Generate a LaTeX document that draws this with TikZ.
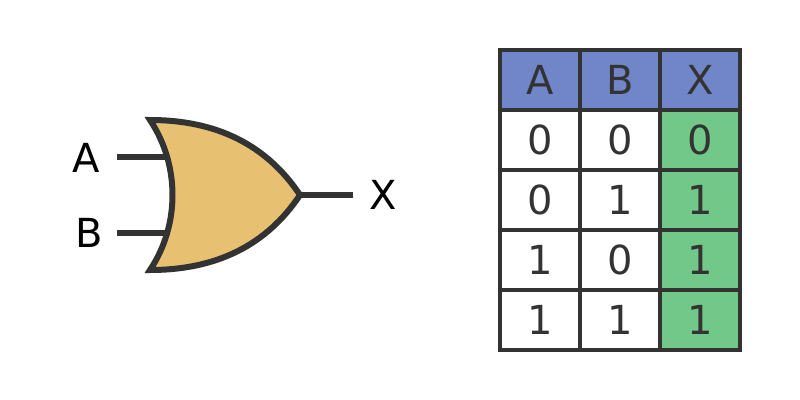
\documentclass[tikz,border=0pt]{standalone}
\usepackage{fontspec}
\setmainfont{DejaVu Sans}
\definecolor{ln}{HTML}{333333}
\definecolor{gatefill}{HTML}{E8C072}
\definecolor{hdr}{HTML}{7086C8}
\definecolor{res}{HTML}{72C888}
\tikzset{
 cellbox/.style={draw=ln,line width=3pt,minimum width=60pt,minimum height=45pt,inner sep=0pt,font=\fontsize{30}{30}\selectfont,text=ln},
 headbox/.style={cellbox,fill=hdr},
 resbox/.style={cellbox,fill=res},
 plainbox/.style={cellbox,fill=white},
 wire/.style={draw=ln,line width=4.5pt},
 gatelabel/.style={font=\fontsize{30}{30}\selectfont,text=black,inner sep=0pt}
}
\begin{document}
\begin{tikzpicture}[x=0.75pt,y=-0.75pt]
\useasboundingbox (0,0) rectangle (800,400);
\coordinate (a1) at (117,157.3);
\coordinate (a2) at (170,157.3);
\coordinate (b1) at (117,232.7);
\coordinate (b2) at (170,232.7);
\coordinate (x1) at (300,195);
\coordinate (x2) at (353,195);
\draw[wire] (a1) -- (a2);
\draw[wire] (b1) -- (b2);
\draw[wire] (x1) -- (x2);
\draw[wire,fill=gatefill,line join=miter] (150,120) .. controls (180,165) and (180,225) .. (150,270)
  .. controls (216.7,270) and (266.7,245) .. (300,195)
  .. controls (266.7,145) and (216.7,120) .. (150,120) -- cycle;
\node[gatelabel] (la) at (85.7,157.5) {A};
\node[gatelabel] (lb) at (89.2,233) {B};
\node[gatelabel] (lx) at (383.2,195) {X};
\node[headbox] (h1) at (540,80) {A};
\node[headbox] (h2) at (620,80) {B};
\node[headbox] (h3) at (700,80) {X};
\node[plainbox] (c11) at (540,140) {0};
\node[plainbox] (c12) at (620,140) {0};
\node[resbox] (c13) at (700,140) {0};
\node[plainbox] (c21) at (540,200) {0};
\node[plainbox] (c22) at (620,200) {1};
\node[resbox] (c23) at (700,200) {1};
\node[plainbox] (c31) at (540,260) {1};
\node[plainbox] (c32) at (620,260) {0};
\node[resbox] (c33) at (700,260) {1};
\node[plainbox] (c41) at (540,320) {1};
\node[plainbox] (c42) at (620,320) {1};
\node[resbox] (c43) at (700,320) {1};
\end{tikzpicture}
\end{document}
